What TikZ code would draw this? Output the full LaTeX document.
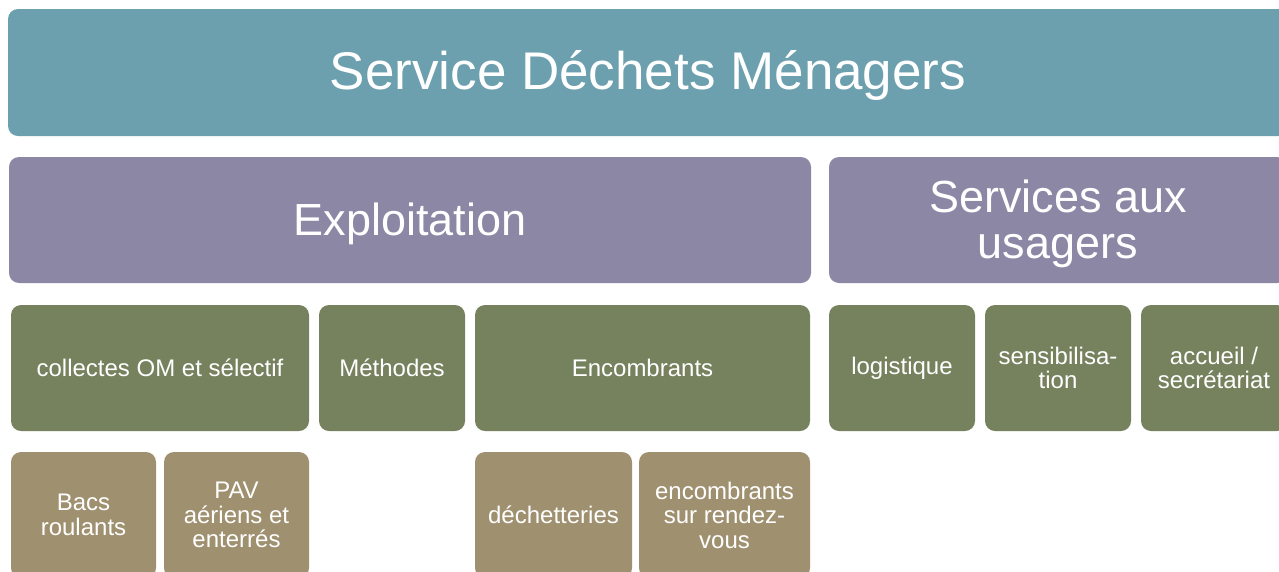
\documentclass[tikz,border=0pt]{standalone}
\usepackage{fontspec}
\setmainfont{Liberation Sans}
\definecolor{teal1}{RGB}{108,160,175}
\definecolor{lila}{RGB}{139,135,165}
\definecolor{olive1}{RGB}{118,130,94}
\definecolor{tan1}{RGB}{159,144,112}
\begin{document}
\begin{tikzpicture}[x=1pt,y=-1pt,
  box/.style={anchor=north west,rounded corners=10pt,inner sep=0pt,outer sep=0pt,
    text=white,align=center,minimum height=126pt},
  big/.style={box,fill=lila,font=\fontsize{45}{46}\selectfont},
  mid/.style={box,fill=olive1,font=\fontsize{24}{24.5}\selectfont},
  low/.style={box,fill=tan1,font=\fontsize{24}{24.5}\selectfont},
  ]
\useasboundingbox (0,0) rectangle (1279,571);
\clip (0,0) rectangle (1279,571);
\node[box,fill=teal1,minimum width=1280pt,minimum height=127pt,
  font=\fontsize{53}{55}\selectfont,text height=45pt] (top) at (8,9) {Service Déchets Ménagers};
\node[big,minimum width=802pt,text height=40pt] (expl) at (9,157) {Exploitation};
\node[big,minimum width=458pt,text height=86pt] (usag) at (829,157) {Services aux\\usagers};
\node[mid,minimum width=298pt] (coll) at (11,305) {collectes OM et sélectif};
\node[mid,minimum width=146pt] (meth) at (319,305) {Méthodes};
\node[mid,minimum width=335pt] (enc) at (475,305) {Encombrants};
\node[mid,minimum width=146pt] (logi) at (829,305) {logistique};
\node[mid,minimum width=146pt] (sens) at (985,305) {sensibilisa-\\tion};
\node[mid,minimum width=146pt] (accu) at (1141,305) {accueil /\\secrétariat};
\node[low,minimum width=145pt] (bacs) at (11,452) {Bacs\\roulants};
\node[low,minimum width=145pt] (pav) at (164,452) {PAV\\aériens et\\enterrés};
\node[low,minimum width=157pt] (dech) at (475,452) {déchetteries};
\node[low,minimum width=171pt] (rdv) at (639,452) {encombrants\\sur rendez-\\vous};
\end{tikzpicture}
\end{document}
